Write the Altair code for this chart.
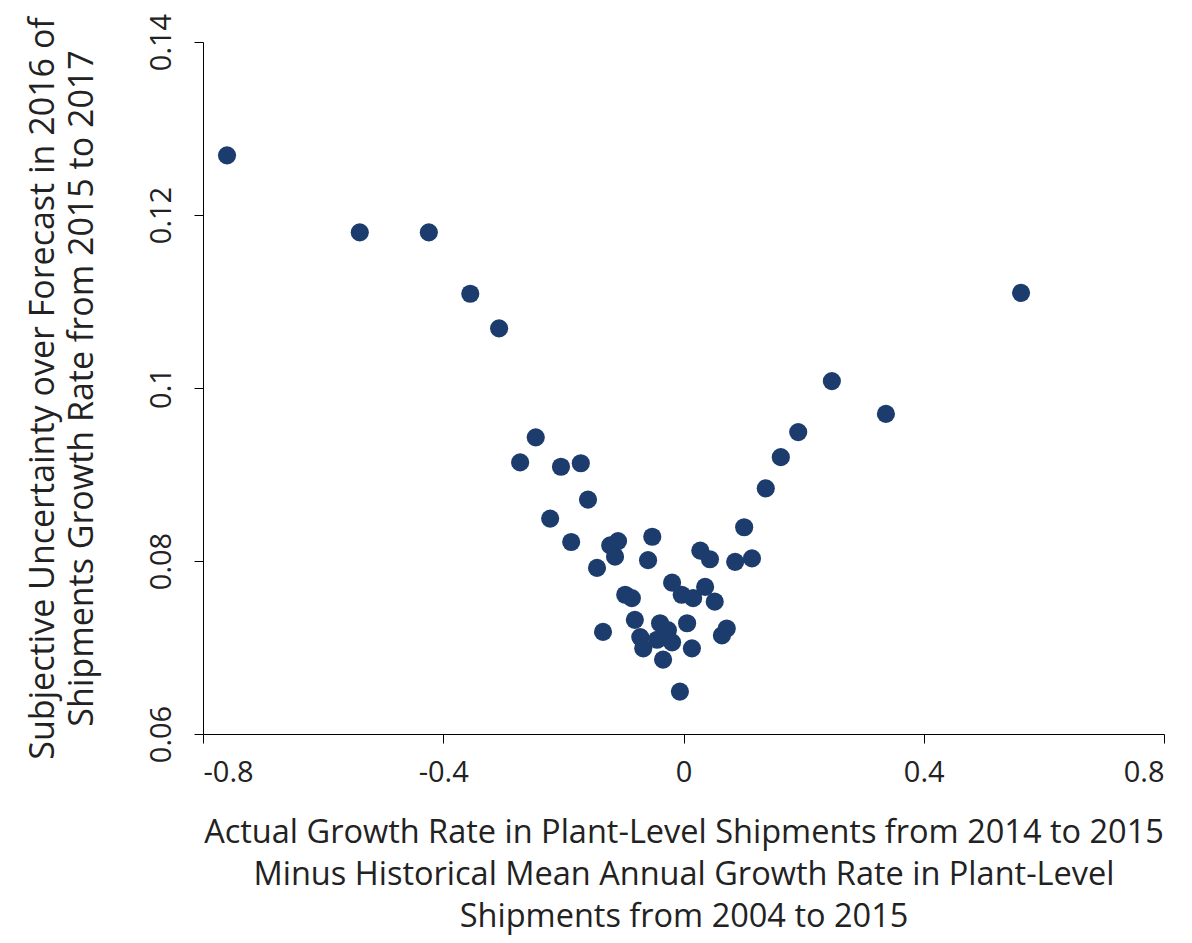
import altair as alt
import pandas as pd

x_vals = [-0.760, -0.539, -0.424, -0.355, -0.307, -0.246, -0.272, -0.204, -0.171, -0.159,
          -0.222, -0.187, -0.122, -0.109, -0.114, -0.144, -0.052, -0.059, -0.097, -0.086,
          -0.134, -0.081, -0.072, -0.067, -0.039, -0.026, -0.044, -0.019, -0.034, 0.006,
          0.014, -0.006, -0.019, -0.003, 0.016, 0.036, 0.052, 0.028, 0.044, 0.064,
          0.072, 0.086, 0.114, 0.101, 0.137, 0.162, 0.191, 0.247, 0.337, 0.562]
y_vals = [0.1269, 0.1180, 0.1180, 0.1109, 0.1069, 0.0943, 0.0914, 0.0909, 0.0913, 0.0871,
          0.0849, 0.0822, 0.0818, 0.0823, 0.0805, 0.0792, 0.0828, 0.0801, 0.0761, 0.0757,
          0.0718, 0.0732, 0.0712, 0.0699, 0.0728, 0.0720, 0.0709, 0.0706, 0.0686, 0.0728,
          0.0699, 0.0649, 0.0775, 0.0761, 0.0757, 0.0770, 0.0753, 0.0812, 0.0802, 0.0714,
          0.0722, 0.0799, 0.0803, 0.0839, 0.0884, 0.0920, 0.0949, 0.1008, 0.0970, 0.1110]

x_ticks = [-0.8, -0.4, 0, 0.4, 0.8]
y_ticks = [0.06, 0.08, 0.1, 0.12, 0.14]

x_title = ["Actual Growth Rate in Plant-Level Shipments from 2014 to 2015",
           "Minus Historical Mean Annual Growth Rate in Plant-Level",
           "Shipments from 2004 to 2015"]
y_title = ["Subjective Uncertainty over Forecast in 2016 of",
           "Shipments Growth Rate from 2015 to 2017"]

df = pd.DataFrame({"x": x_vals, "y": y_vals})

FONT = "Open Sans"

chart = alt.Chart(df).mark_circle(size=330, opacity=1, color="#1b3c6c").encode(
    x=alt.X("x:Q", scale=alt.Scale(domain=[-0.8, 0.8], nice=False),
            axis=alt.Axis(values=x_ticks, title=x_title, grid=False,
                          domainColor="black", tickColor="black", tickSize=9,
                          labelFontSize=29, labelColor="#222", labelPadding=15,
                          titleFontSize=32.5, titleFontWeight="normal", titleColor="#222",
                          titlePadding=29, titleLineHeight=42,
                          labelExpr="'' + datum.value")),
    y=alt.Y("y:Q", scale=alt.Scale(domain=[0.06, 0.14], nice=False, zero=False),
            axis=alt.Axis(values=y_ticks, title=y_title, grid=False,
                          domainColor="black", tickColor="black", tickSize=9,
                          labelFontSize=29, labelColor="#222", labelAngle=270,
                          labelAlign="center", labelBaseline="bottom", labelPadding=18,
                          titleFontSize=34, titleFontWeight="normal", titleColor="#222",
                          titlePadding=48, titleLineHeight=39,
                          labelExpr="'' + datum.value")),
).properties(
    width=961, height=692,
    autosize=alt.AutoSizeParams(type="none"),
    padding={"left": 195, "top": 34, "right": 20, "bottom": 208},
).configure_view(stroke=None).configure_axis(labelFont=FONT, titleFont=FONT)

chart.save("out.html", embed_options={"renderer": "svg", "actions": False})
